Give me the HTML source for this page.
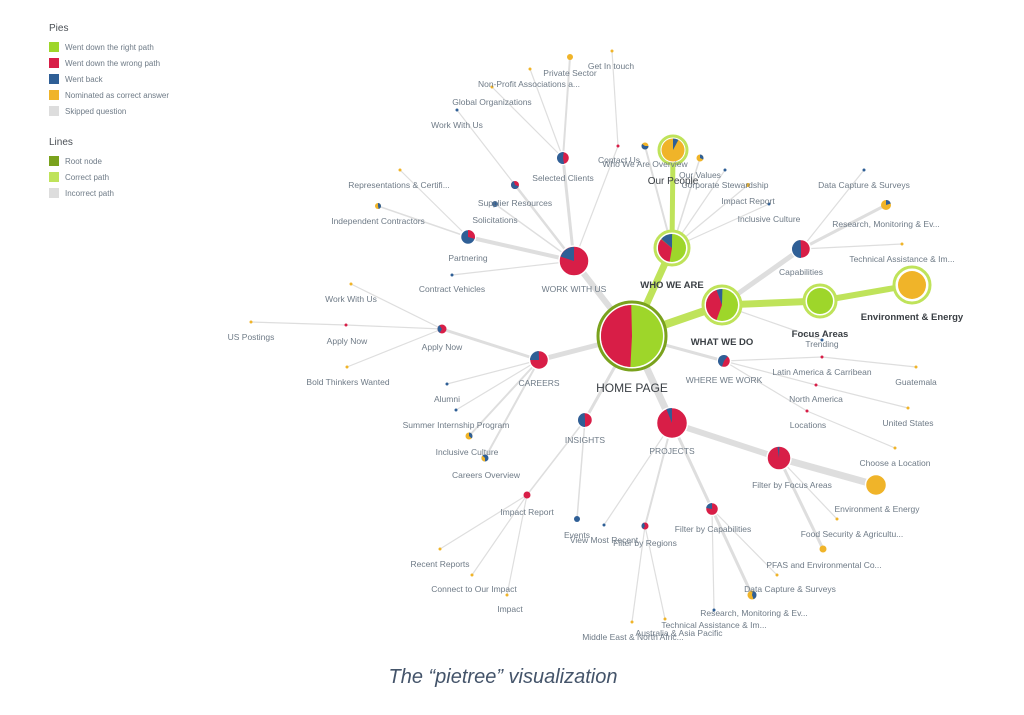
<!DOCTYPE html>
<html><head><meta charset="utf-8"><style>
html,body{margin:0;padding:0;background:#fff;width:1024px;height:715px;overflow:hidden}
svg{display:block}
text{font-family:"Liberation Sans",sans-serif;font-size:8.5px;fill:#6f7b87}
.b{font-weight:bold;fill:#3a3f44;font-size:10px}
.lg{font-size:8px;fill:#6f7b87}
.lt{font-size:10px;fill:#4a4f55}
.g{stroke:#dedede;fill:none;stroke-linecap:round}
.c{stroke:#bfe35a;fill:none;stroke-linecap:round}
</style></head><body>
<svg width="1024" height="715" viewBox="0 0 1024 715" xmlns="http://www.w3.org/2000/svg">
<!-- legend -->
<text class="lt" x="49" y="31">Pies</text>
<rect x="49" y="42" width="10" height="10" fill="#9ed62a"/><text class="lg" x="65" y="50">Went down the right path</text>
<rect x="49" y="58" width="10" height="10" fill="#d81e47"/><text class="lg" x="65" y="66">Went down the wrong path</text>
<rect x="49" y="74" width="10" height="10" fill="#2f5f96"/><text class="lg" x="65" y="82">Went back</text>
<rect x="49" y="90" width="10" height="10" fill="#f0b429"/><text class="lg" x="65" y="98">Nominated as correct answer</text>
<rect x="49" y="106" width="10" height="10" fill="#dddddd"/><text class="lg" x="65" y="114">Skipped question</text>
<text class="lt" x="49" y="145">Lines</text>
<rect x="49" y="156" width="10" height="10" fill="#7aa21d"/><text class="lg" x="65" y="164">Root node</text>
<rect x="49" y="172" width="10" height="10" fill="#bfe35a"/><text class="lg" x="65" y="180">Correct path</text>
<rect x="49" y="188" width="10" height="10" fill="#dddddd"/><text class="lg" x="65" y="196">Incorrect path</text>

<!-- grey lines -->
<g class="g">
<line x1="632" y1="336" x2="672" y2="423" stroke-width="7"/>
<line x1="632" y1="336" x2="574" y2="261" stroke-width="6"/>
<line x1="632" y1="336" x2="539" y2="360" stroke-width="5"/>
<line x1="632" y1="336" x2="585" y2="420" stroke-width="3"/>
<line x1="632" y1="336" x2="724" y2="361" stroke-width="3"/>
<line x1="722" y1="305" x2="801" y2="249" stroke-width="5"/>
<line x1="722" y1="305" x2="822" y2="340" stroke-width="1.2"/>
<line x1="672" y1="423" x2="779" y2="458" stroke-width="6"/>
<line x1="779" y1="458" x2="876" y2="485" stroke-width="7"/>
<line x1="779" y1="458" x2="823" y2="549" stroke-width="3"/>
<line x1="779" y1="458" x2="837" y2="519" stroke-width="1.2"/>
<line x1="672" y1="423" x2="712" y2="509" stroke-width="3"/>
<line x1="712" y1="509" x2="752" y2="595" stroke-width="3"/>
<line x1="712" y1="509" x2="714" y2="610" stroke-width="1.2"/>
<line x1="712" y1="509" x2="777" y2="575" stroke-width="1.2"/>
<line x1="672" y1="423" x2="645" y2="526" stroke-width="2"/>
<line x1="645" y1="526" x2="632" y2="622" stroke-width="1.2"/>
<line x1="645" y1="526" x2="665" y2="619" stroke-width="1.2"/>
<line x1="672" y1="423" x2="604" y2="525" stroke-width="1.2"/>
<line x1="585" y1="420" x2="577" y2="519" stroke-width="1.5"/>
<line x1="585" y1="420" x2="527" y2="495" stroke-width="1.5"/>
<line x1="527" y1="495" x2="440" y2="549" stroke-width="1.2"/>
<line x1="527" y1="495" x2="472" y2="575" stroke-width="1.2"/>
<line x1="527" y1="495" x2="507" y2="595" stroke-width="1.2"/>
<line x1="539" y1="360" x2="442" y2="329" stroke-width="3"/>
<line x1="539" y1="360" x2="447" y2="384" stroke-width="1.2"/>
<line x1="539" y1="360" x2="456" y2="410" stroke-width="1.2"/>
<line x1="539" y1="360" x2="469" y2="436" stroke-width="2"/>
<line x1="539" y1="360" x2="485" y2="458" stroke-width="2"/>
<line x1="442" y1="329" x2="351" y2="284" stroke-width="1.2"/>
<line x1="442" y1="329" x2="346" y2="325" stroke-width="1.2"/>
<line x1="442" y1="329" x2="347" y2="367" stroke-width="1.2"/>
<line x1="346" y1="325" x2="251" y2="322" stroke-width="1.2"/>
<line x1="574" y1="261" x2="468" y2="237" stroke-width="4"/>
<line x1="574" y1="261" x2="452" y2="275" stroke-width="1.2"/>
<line x1="574" y1="261" x2="495" y2="204" stroke-width="1.5"/>
<line x1="574" y1="261" x2="515" y2="185" stroke-width="2.5"/>
<line x1="574" y1="261" x2="563" y2="158" stroke-width="3"/>
<line x1="574" y1="261" x2="618" y2="146" stroke-width="1.2"/>
<line x1="618" y1="146" x2="612" y2="51" stroke-width="1.2"/>
<line x1="515" y1="185" x2="457" y2="110" stroke-width="1.2"/>
<line x1="563" y1="158" x2="492" y2="87" stroke-width="1.2"/>
<line x1="563" y1="158" x2="530" y2="69" stroke-width="1.2"/>
<line x1="563" y1="158" x2="570" y2="57" stroke-width="2"/>
<line x1="468" y1="237" x2="400" y2="170" stroke-width="1.2"/>
<line x1="468" y1="237" x2="378" y2="206" stroke-width="1.5"/>
<line x1="672" y1="248" x2="645" y2="146" stroke-width="2"/>
<line x1="672" y1="248" x2="700" y2="158" stroke-width="1.5"/>
<line x1="672" y1="248" x2="725" y2="170" stroke-width="1.2"/>
<line x1="672" y1="248" x2="748" y2="185" stroke-width="1.2"/>
<line x1="672" y1="248" x2="769" y2="204" stroke-width="1.2"/>
<line x1="801" y1="249" x2="864" y2="170" stroke-width="1.2"/>
<line x1="801" y1="249" x2="886" y2="205" stroke-width="3"/>
<line x1="801" y1="249" x2="902" y2="244" stroke-width="1.2"/>
<line x1="724" y1="361" x2="822" y2="357" stroke-width="1.2"/>
<line x1="822" y1="357" x2="916" y2="367" stroke-width="1.2"/>
<line x1="724" y1="361" x2="816" y2="385" stroke-width="1.2"/>
<line x1="816" y1="385" x2="908" y2="408" stroke-width="1.2"/>
<line x1="724" y1="361" x2="807" y2="411" stroke-width="1.2"/>
<line x1="807" y1="411" x2="895" y2="448" stroke-width="1.2"/>
</g>
<!-- correct path lines -->
<g class="c">
<line x1="632" y1="336" x2="722" y2="305" stroke-width="8"/>
<line x1="632" y1="336" x2="672" y2="248" stroke-width="7"/>
<line x1="672" y1="248" x2="673" y2="150" stroke-width="5"/>
<line x1="722" y1="305" x2="820" y2="301" stroke-width="7"/>
<line x1="820" y1="301" x2="912" y2="285" stroke-width="6"/>
</g>

<!-- rings -->
<circle cx="632" cy="336" r="34" fill="#fff" stroke="#7aa21d" stroke-width="3"/>
<circle cx="672" cy="248" r="17" fill="#fff" stroke="#bfe35a" stroke-width="3"/>
<circle cx="673" cy="150" r="14" fill="#fff" stroke="#bfe35a" stroke-width="3"/>
<circle cx="722" cy="305" r="19" fill="#fff" stroke="#bfe35a" stroke-width="3"/>
<circle cx="820" cy="301" r="16" fill="#fff" stroke="#bfe35a" stroke-width="3"/>
<circle cx="912" cy="285" r="18" fill="#fff" stroke="#bfe35a" stroke-width="3"/>

<!-- pies -->
<g stroke="#fff" stroke-width="1.5">
<circle cx="632" cy="336" r="31" fill="#9ed62a" stroke="none"/>
<circle cx="672" cy="248" r="14" fill="#9ed62a" stroke="none"/>
<circle cx="673" cy="150" r="11.5" fill="#f0b429" stroke="none"/>
<circle cx="722" cy="305" r="16" fill="#9ed62a" stroke="none"/>
<circle cx="820" cy="301" r="13" fill="#9ed62a" stroke="none"/>
<circle cx="912" cy="285" r="14" fill="#f0b429" stroke="none"/>
<circle cx="574" cy="261" r="15" fill="#d81e47"/>
<circle cx="539" cy="360" r="9.5" fill="#d81e47"/>
<circle cx="585" cy="420" r="7.5" fill="#d81e47"/>
<circle cx="672" cy="423" r="15.5" fill="#d81e47"/>
<circle cx="724" cy="361" r="6.5" fill="#d81e47"/>
<circle cx="801" cy="249" r="9.5" fill="#d81e47"/>
<circle cx="779" cy="458" r="12" fill="#d81e47"/>
<circle cx="876" cy="485" r="10.5" fill="#f0b429"/>
<circle cx="712" cy="509" r="6.5" fill="#d81e47"/>
<circle cx="645" cy="526" r="3.5" fill="#d81e47" stroke="none"/>
<circle cx="563" cy="158" r="6.5" fill="#d81e47"/>
<circle cx="515" cy="185" r="4" fill="#d81e47" stroke="none"/>
<circle cx="468" cy="237" r="7.5" fill="#2f5f96"/>
<circle cx="442" cy="329" r="4.5" fill="#d81e47" stroke="none"/>
<circle cx="645" cy="146" r="3.5" fill="#f0b429" stroke="none"/>
<circle cx="700" cy="158" r="3.5" fill="#f0b429" stroke="none"/>
<circle cx="886" cy="205" r="5" fill="#f0b429" stroke="none"/>
<circle cx="752" cy="595" r="4.5" fill="#f0b429" stroke="none"/>
<circle cx="469" cy="436" r="3.5" fill="#f0b429" stroke="none"/>
<circle cx="485" cy="458" r="3.5" fill="#2f5f96" stroke="none"/>
<circle cx="378" cy="206" r="3" fill="#f0b429" stroke="none"/>
</g>
<!-- wedges: circle r=R/2, stroke-width=R, pathLength 100 -->
<g fill="none">
<circle cx="632" cy="336" r="15.5" stroke="#d81e47" stroke-width="31" pathLength="100" stroke-dasharray="49 100" transform="rotate(93 632 336)"/>
<circle cx="672" cy="248" r="7" stroke="#d81e47" stroke-width="14" pathLength="100" stroke-dasharray="33 100" transform="rotate(100 672 248)"/>
<circle cx="672" cy="248" r="7" stroke="#2f5f96" stroke-width="14" pathLength="100" stroke-dasharray="14 100" transform="rotate(220 672 248)"/>
<circle cx="722" cy="305" r="8" stroke="#d81e47" stroke-width="16" pathLength="100" stroke-dasharray="39 100" transform="rotate(110 722 305)"/>
<circle cx="722" cy="305" r="8" stroke="#2f5f96" stroke-width="16" pathLength="100" stroke-dasharray="6 100" transform="rotate(250 722 305)"/>
<circle cx="673" cy="150" r="5.75" stroke="#2f5f96" stroke-width="11.5" pathLength="100" stroke-dasharray="8 100" transform="rotate(270 673 150)"/>
<circle cx="574" cy="261" r="7" stroke="#2f5f96" stroke-width="14" pathLength="100" stroke-dasharray="20 100" transform="rotate(198 574 261)"/>
<circle cx="539" cy="360" r="4.5" stroke="#2f5f96" stroke-width="9" pathLength="100" stroke-dasharray="25 100" transform="rotate(180 539 360)"/>
<circle cx="585" cy="420" r="3.5" stroke="#2f5f96" stroke-width="7" pathLength="100" stroke-dasharray="50 100" transform="rotate(90 585 420)"/>
<circle cx="672" cy="423" r="7.5" stroke="#2f5f96" stroke-width="15" pathLength="100" stroke-dasharray="6 100" transform="rotate(248 672 423)"/>
<circle cx="724" cy="361" r="3" stroke="#2f5f96" stroke-width="6" pathLength="100" stroke-dasharray="55 100" transform="rotate(110 724 361)"/>
<circle cx="801" cy="249" r="4.5" stroke="#2f5f96" stroke-width="9" pathLength="100" stroke-dasharray="50 100" transform="rotate(90 801 249)"/>
<circle cx="779" cy="458" r="5.5" stroke="#2f5f96" stroke-width="11" pathLength="100" stroke-dasharray="3 100" transform="rotate(262 779 458)"/>
<circle cx="712" cy="509" r="3" stroke="#2f5f96" stroke-width="6" pathLength="100" stroke-dasharray="22 100" transform="rotate(190 712 509)"/>
<circle cx="645" cy="526" r="1.75" stroke="#2f5f96" stroke-width="3.5" pathLength="100" stroke-dasharray="40 100" transform="rotate(120 645 526)"/>
<circle cx="563" cy="158" r="3" stroke="#2f5f96" stroke-width="6" pathLength="100" stroke-dasharray="55 100" transform="rotate(80 563 158)"/>
<circle cx="515" cy="185" r="2" stroke="#2f5f96" stroke-width="4" pathLength="100" stroke-dasharray="70 100" transform="rotate(20 515 185)"/>
<circle cx="468" cy="237" r="3.5" stroke="#d81e47" stroke-width="7" pathLength="100" stroke-dasharray="30 100" transform="rotate(270 468 237)"/>
<circle cx="442" cy="329" r="2.25" stroke="#2f5f96" stroke-width="4.5" pathLength="100" stroke-dasharray="35 100" transform="rotate(120 442 329)"/>
<circle cx="645" cy="146" r="1.75" stroke="#2f5f96" stroke-width="3.5" pathLength="100" stroke-dasharray="65 100" transform="rotate(0 645 146)"/>
<circle cx="700" cy="158" r="1.75" stroke="#2f5f96" stroke-width="3.5" pathLength="100" stroke-dasharray="35 100" transform="rotate(270 700 158)"/>
<circle cx="886" cy="205" r="2.5" stroke="#2f5f96" stroke-width="5" pathLength="100" stroke-dasharray="20 100" transform="rotate(270 886 205)"/>
<circle cx="752" cy="595" r="2.25" stroke="#2f5f96" stroke-width="4.5" pathLength="100" stroke-dasharray="45 100" transform="rotate(280 752 595)"/>
<circle cx="469" cy="436" r="1.75" stroke="#2f5f96" stroke-width="3.5" pathLength="100" stroke-dasharray="40 100" transform="rotate(270 469 436)"/>
<circle cx="485" cy="458" r="1.75" stroke="#f0b429" stroke-width="3.5" pathLength="100" stroke-dasharray="40 100" transform="rotate(90 485 458)"/>
<circle cx="378" cy="206" r="1.5" stroke="#2f5f96" stroke-width="3" pathLength="100" stroke-dasharray="50 100" transform="rotate(270 378 206)"/>
</g>
<!-- small dots -->
<g>
<circle cx="577" cy="519" r="3" fill="#2f5f96"/>
<circle cx="604" cy="525" r="1.5" fill="#2f5f96"/>
<circle cx="527" cy="495" r="3.5" fill="#d81e47"/>
<circle cx="440" cy="549" r="1.5" fill="#f0b429"/>
<circle cx="472" cy="575" r="1.5" fill="#f0b429"/>
<circle cx="507" cy="595" r="1.5" fill="#f0b429"/>
<circle cx="632" cy="622" r="1.5" fill="#f0b429"/>
<circle cx="665" cy="619" r="1.5" fill="#f0b429"/>
<circle cx="714" cy="610" r="1.5" fill="#2f5f96"/>
<circle cx="777" cy="575" r="1.5" fill="#f0b429"/>
<circle cx="823" cy="549" r="3.5" fill="#f0b429"/>
<circle cx="837" cy="519" r="1.5" fill="#f0b429"/>
<circle cx="447" cy="384" r="1.5" fill="#2f5f96"/>
<circle cx="456" cy="410" r="1.5" fill="#2f5f96"/>
<circle cx="351" cy="284" r="1.5" fill="#f0b429"/>
<circle cx="346" cy="325" r="1.5" fill="#d81e47"/>
<circle cx="347" cy="367" r="1.5" fill="#f0b429"/>
<circle cx="251" cy="322" r="1.5" fill="#f0b429"/>
<circle cx="452" cy="275" r="1.5" fill="#2f5f96"/>
<circle cx="495" cy="204" r="3" fill="#2f5f96"/>
<circle cx="618" cy="146" r="1.5" fill="#d81e47"/>
<circle cx="612" cy="51" r="1.5" fill="#f0b429"/>
<circle cx="457" cy="110" r="1.5" fill="#2f5f96"/>
<circle cx="492" cy="87" r="1.5" fill="#f0b429"/>
<circle cx="530" cy="69" r="1.5" fill="#f0b429"/>
<circle cx="570" cy="57" r="3" fill="#f0b429"/>
<circle cx="400" cy="170" r="1.5" fill="#f0b429"/>
<circle cx="725" cy="170" r="1.5" fill="#2f5f96"/>
<circle cx="748" cy="185" r="2" fill="#f0b429"/>
<circle cx="769" cy="204" r="1.5" fill="#2f5f96"/>
<circle cx="864" cy="170" r="1.5" fill="#2f5f96"/>
<circle cx="902" cy="244" r="1.5" fill="#f0b429"/>
<circle cx="822" cy="340" r="1.5" fill="#2f5f96"/>
<circle cx="822" cy="357" r="1.5" fill="#d81e47"/>
<circle cx="916" cy="367" r="1.5" fill="#f0b429"/>
<circle cx="816" cy="385" r="1.5" fill="#d81e47"/>
<circle cx="908" cy="408" r="1.5" fill="#f0b429"/>
<circle cx="807" cy="411" r="1.5" fill="#d81e47"/>
<circle cx="895" cy="448" r="1.5" fill="#f0b429"/>
</g>

<!-- labels -->
<g text-anchor="middle">
<text x="632" y="392" class="b" style="font-size:12px;font-weight:normal;fill:#3a3f44">HOME PAGE</text>
<text x="672" y="288" class="b" style="font-size:9.5px">WHO WE ARE</text>
<text x="722" y="345" class="b" style="font-size:9.5px">WHAT WE DO</text>
<text x="673" y="184" class="b" style="font-weight:normal;font-size:10px">Our People</text>
<text x="820" y="337" class="b" style="font-size:9.5px">Focus Areas</text>
<text x="912" y="320" class="b" style="font-size:9.5px">Environment &amp; Energy</text>
<text x="574" y="292">WORK WITH US</text>
<text x="539" y="386">CAREERS</text>
<text x="585" y="443">INSIGHTS</text>
<text x="672" y="454">PROJECTS</text>
<text x="724" y="383">WHERE WE WORK</text>
<text x="801" y="275">Capabilities</text>
<text x="822" y="347">Trending</text>
<text x="792" y="488">Filter by Focus Areas</text>
<text x="877" y="512">Environment &amp; Energy</text>
<text x="852" y="537">Food Security &amp; Agricultu...</text>
<text x="824" y="568">PFAS and Environmental Co...</text>
<text x="790" y="592">Data Capture &amp; Surveys</text>
<text x="754" y="616">Research, Monitoring &amp; Ev...</text>
<text x="714" y="628">Technical Assistance &amp; Im...</text>
<text x="713" y="532">Filter by Capabilities</text>
<text x="645" y="546">Filter by Regions</text>
<text x="577" y="538">Events</text>
<text x="604" y="543">View Most Recent</text>
<text x="633" y="640">Middle East &amp; North Afric...</text>
<text x="679" y="636">Australia &amp; Asia Pacific</text>
<text x="527" y="515">Impact Report</text>
<text x="440" y="567">Recent Reports</text>
<text x="474" y="592">Connect to Our Impact</text>
<text x="510" y="612">Impact</text>
<text x="447" y="402">Alumni</text>
<text x="456" y="428">Summer Internship Program</text>
<text x="467" y="455">Inclusive Culture</text>
<text x="486" y="478">Careers Overview</text>
<text x="442" y="350">Apply Now</text>
<text x="351" y="302">Work With Us</text>
<text x="347" y="344">Apply Now</text>
<text x="348" y="385">Bold Thinkers Wanted</text>
<text x="251" y="340">US Postings</text>
<text x="468" y="261">Partnering</text>
<text x="452" y="292">Contract Vehicles</text>
<text x="495" y="223">Solicitations</text>
<text x="515" y="206">Supplier Resources</text>
<text x="563" y="181">Selected Clients</text>
<text x="457" y="128">Work With Us</text>
<text x="492" y="105">Global Organizations</text>
<text x="529" y="87">Non-Profit Associations a...</text>
<text x="570" y="76">Private Sector</text>
<text x="611" y="69">Get In touch</text>
<text x="619" y="163">Contact Us</text>
<text x="399" y="188">Representations &amp; Certifi...</text>
<text x="378" y="224">Independent Contractors</text>
<text x="645" y="167">Who We Are Overview</text>
<text x="700" y="178">Our Values</text>
<text x="725" y="188">Corporate Stewardship</text>
<text x="748" y="204">Impact Report</text>
<text x="769" y="222">Inclusive Culture</text>
<text x="864" y="188">Data Capture &amp; Surveys</text>
<text x="886" y="227">Research, Monitoring &amp; Ev...</text>
<text x="902" y="262">Technical Assistance &amp; Im...</text>
<text x="822" y="375">Latin America &amp; Carribean</text>
<text x="916" y="385">Guatemala</text>
<text x="816" y="402">North America</text>
<text x="908" y="426">United States</text>
<text x="808" y="428">Locations</text>
<text x="895" y="466">Choose a Location</text>
</g>
<text x="503" y="683" text-anchor="middle" style="font-size:20px;font-style:italic;fill:#44546a">The “pietree” visualization</text>
</svg>
</body></html>
